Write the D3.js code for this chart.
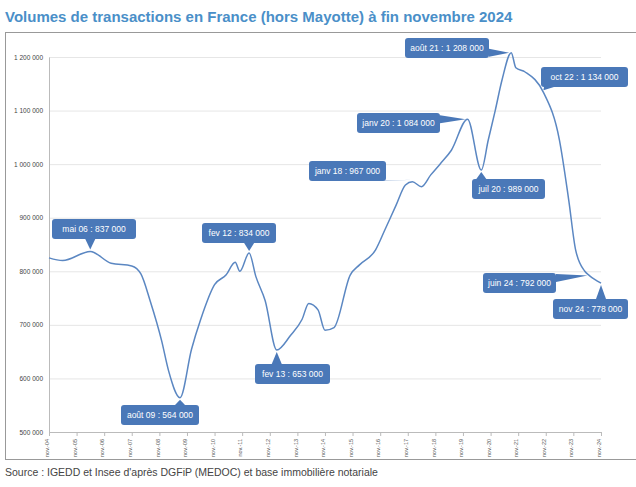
<!DOCTYPE html>
<html><head><meta charset="utf-8">
<script src="https://cdn.jsdelivr.net/npm/d3@7"></script>
<style>
body{margin:0;background:#fff;}
text{font-family:"Liberation Sans",Arial,sans-serif;}
</style></head>
<body><div id="chart"></div>
<script>
var svgWidth = 636, svgHeight = 487;

// monthly volume
var dates = ["2004-11","2005-05","2006-05","2007-02","2007-11","2008-03","2008-07","2008-12","2009-03","2009-08",
  "2010-01","2010-05","2010-11","2011-04","2011-08","2011-10","2012-02","2012-05","2012-09","2013-02",
  "2013-08","2014-01","2014-04","2014-08","2014-11","2015-03","2015-10","2016-02","2016-09","2017-01",
  "2017-06","2017-10","2018-01","2018-05","2018-09","2019-01","2019-06","2020-01","2020-07","2020-10",
  "2021-01","2021-04","2021-08","2021-10","2022-02","2022-10","2023-05","2023-09","2023-12","2024-04",
  "2024-06","2024-11"];
var volumes = [825000,820000,837000,815000,810000,795000,745000,670000,615000,564000,
  655000,710000,775000,793000,817000,800000,834000,790000,745000,653000,
  680000,710000,740000,728000,690000,695000,793000,812000,840000,877000,
  924000,961000,967000,958000,980000,1000000,1026000,1084000,989000,1045000,
  1100000,1157000,1208000,1180000,1172000,1134000,1045000,933000,840000,800000,
  792000,778000];

var yTicks = [500000,600000,700000,800000,900000,1000000,1100000,1200000];
var xTickYears = d3.range(2004, 2025);

var calloutLabels = ["mai 06 : 837 000","août 09 : 564 000","fev 12 : 834 000","fev 13 : 653 000",
  "janv  18 : 967 000","janv 20 : 1 084 000","juil 20 : 989 000","août 21 : 1 208 000",
  "oct 22 : 1 134 000","juin 24 : 792 000","nov 24 : 778 000"];
var calloutDates = ["2006-05","2009-08","2012-02","2013-02","2018-01","2020-01","2020-07","2021-08","2022-10","2024-06","2024-11"];
var calloutValues = [837000,564000,834000,653000,967000,1084000,989000,1208000,1134000,792000,778000];

// box layout: left, top, width
var calloutBoxes = [[52,219,84],[121,405,78],[202,223,74],[255,364,75],[309,161,77],[357,113,83],
  [472,179,73],[405,38,84],[541,67,87],[483,273,73],[553,299,75]];

var parse = d3.timeParse("%Y-%m");
var data = dates.map(function(d, i){ return {date: parse(d), value: volumes[i]}; });

var svg = d3.select("#chart").append("svg")
  .attr("width", svgWidth).attr("height", svgHeight);

var x = d3.scaleTime()
  .domain([new Date(2004,10,1), new Date(2024,10,1)])
  .range([49, 601]);
var y = d3.scaleLinear().domain([500000,1200000]).range([432, 57]);

svg.append("text").attr("x", 5).attr("y", 22)
  .attr("font-family", "'DejaVu Sans Condensed','Liberation Sans Narrow',sans-serif")
  .attr("font-weight", "bold").attr("font-size", 15).attr("fill", "#4a8fc8")
  .text("Volumes de transactions en France (hors Mayotte) à fin novembre 2024");

svg.append("rect").attr("x", 5.5).attr("y", 32.5).attr("width", 640).attr("height", 427)
  .attr("fill", "none").attr("stroke", "#999");

var fmt = function(v){ return d3.format(",")(v).replace(/,/g, " "); };

svg.append("g").selectAll("line").data(yTicks).enter().append("line")
  .attr("x1", 49).attr("x2", 601)
  .attr("y1", function(d){ return y(d) + 0.5; }).attr("y2", function(d){ return y(d) + 0.5; })
  .attr("stroke", function(d){ return d === 500000 ? "#bbb" : "#e6e6e6"; });

var leftAxis = d3.axisLeft(y).tickValues(yTicks).tickFormat(fmt).tickSize(0).tickPadding(6);
var yg = svg.append("g").attr("transform", "translate(49,0)").call(leftAxis);
yg.select(".domain").attr("stroke", "#bbb");
yg.selectAll("text").attr("font-size", 6.5).attr("fill", "#444");

var bottomAxis = d3.axisBottom(x)
  .tickValues(xTickYears.map(function(yr){ return new Date(yr,10,1); }))
  .tickFormat(d3.timeFormat("nov.-%y")).tickSize(4);
var xg = svg.append("g").attr("transform", "translate(0,432)").call(bottomAxis);
xg.select(".domain").remove();
xg.selectAll("line").attr("stroke", "#bbb");
xg.selectAll("text").attr("font-size", 5.5).attr("fill", "#555")
  .attr("transform", "rotate(-90)").attr("text-anchor", "end")
  .attr("x", -7).attr("y", -2).attr("dy", "0.3em");

var line = d3.line().x(function(d){ return x(d.date); }).y(function(d){ return y(d.value); })
  .curve(d3.curveMonotoneX);
svg.append("path").datum(data).attr("d", line)
  .attr("fill", "none").attr("stroke", "#5b87c2").attr("stroke-width", 1.5);

// callouts
calloutLabels.forEach(function(lbl, i){
  var b = calloutBoxes[i], h = 20;
  var px = x(parse(calloutDates[i])), py = y(calloutValues[i]);
  var bx = b[0], by = b[1], bw = b[2];
  var cx = Math.max(bx + 8, Math.min(bx + bw - 8, px)), cy = Math.max(by + 5, Math.min(by + h - 5, py));
  var tail;
  if (py < by) tail = [[cx - 5, by], [px, py + 2], [cx + 5, by]];
  else if (py > by + h) tail = [[cx - 5, by + h], [px, py - 2], [cx + 5, by + h]];
  else if (px > bx + bw) tail = [[bx + bw, cy - 4], [px - 2, py], [bx + bw, cy + 4]];
  else tail = [[bx, cy - 4], [px + 2, py], [bx, cy + 4]];
  var g = svg.append("g");
  g.append("path").attr("d", d3.line()(tail)).attr("fill", "#4a78b8");
  g.append("rect").attr("x", bx).attr("y", by).attr("width", bw).attr("height", h)
    .attr("rx", 3).attr("fill", "#4a78b8");
  g.append("text").attr("x", bx + bw / 2).attr("y", by + h / 2).attr("dy", "0.35em")
    .attr("text-anchor", "middle").attr("font-size", 8.5).attr("fill", "#fff").text(lbl);
});

svg.append("text").attr("x", 5).attr("y", 476)
  .attr("font-family", "'Liberation Sans Narrow','Liberation Sans',sans-serif")
  .attr("font-size", 10.5).attr("fill", "#444")
  .text("Source : IGEDD et Insee d'après DGFiP (MEDOC) et base immobilière notariale");
</script></body></html>
